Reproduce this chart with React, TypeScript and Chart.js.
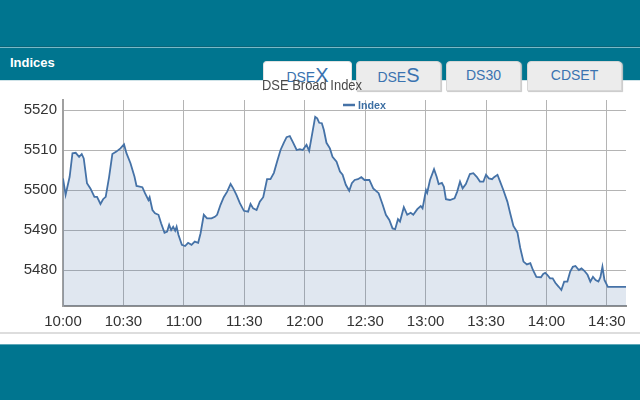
import React, { useEffect, useRef } from "react";
import { Chart, registerables } from "chart.js";

Chart.register(...registerables);

// minutes after 10:00
const times = [
  0, 1.3, 3.3, 4.7, 6.3, 8, 9.3, 10.3, 11.9, 13.6, 15.6, 16.9, 18.6, 19.9, 21.2, 22.9, 24.5, 26.5, 28.5, 30.3,
  31.5, 33.5, 35.5, 36.5, 39.4, 40.7, 42.4, 43, 44.4, 45.7, 47.4, 48.7, 50.4, 51.7, 52.7, 53.7, 54.7, 55.7, 56.4, 57.3,
  59, 60.6, 62.1, 63.8, 65.4, 67.1, 68.3, 69.9, 71.5, 73.7, 75.4, 76.5, 78.2, 79.8, 81.5, 83.2, 84.5, 86.1, 87.8, 89.8,
  91.9, 93.1, 94.4, 96.1, 97.7, 99.4, 101.3, 103, 104.7, 106.3, 108, 109.6, 111, 112.6, 114, 116, 117.6, 119, 120.9, 122.2,
  123.9, 125.2, 126.2, 127.2, 128.5, 129.5, 130.8, 132.5, 133.8, 135.8, 137.5, 138.8, 140.4, 142.1, 143.4, 144.8, 146.4, 148.1, 149.7, 152.1,
  154, 156.7, 158.7, 160.3, 162, 163.6, 164.9, 166.3, 167.3, 169.2, 170.9, 172.6, 173.9, 175.9, 177.6, 178.5, 180.2, 180.8, 182.2, 184.2,
  185.5, 186.5, 188.1, 189.1, 190.1, 192.1, 194.4, 195.7, 197.1, 198.4, 200, 202, 203.7, 205.4, 207, 208.7, 210, 211.4, 213, 214,
  215.7, 217, 218.6, 220.6, 222, 223.6, 225.6, 227, 228.6, 230.3, 232, 233.3, 235, 237.3, 238.4, 239.4, 240.4, 241.8, 243.1, 244.4,
  246.1, 247.4, 248.8, 250.4, 251.8, 253.1, 254.4, 256.1, 257.4, 258.8, 260.4, 261.8, 263.1, 264.4, 265.8, 266.8, 267.8, 268.8, 270.5, 273,
  276, 279.5,
];

const values = [
  5502.9, 5498.8, 5503.3, 5509.2, 5509.3, 5508.3, 5509, 5507.9, 5501.7, 5500.4, 5498.3, 5498.3, 5496.5, 5497.7, 5498.3, 5503.3, 5509, 5509.6, 5510.4, 5511.4,
  5509.2, 5506.7, 5503.3, 5501, 5500.7, 5499.2, 5497.5, 5498.2, 5495, 5494.2, 5493.8, 5491.7, 5489.3, 5489.6, 5491.3, 5490, 5490.8, 5489.8, 5490.8, 5488.8,
  5486.3, 5486, 5486.8, 5486.3, 5487.1, 5486.8, 5489.2, 5493.8, 5492.9, 5492.9, 5493.3, 5493.8, 5496.3, 5498.2, 5499.6, 5501.5, 5500.4, 5498.8, 5496.7, 5494.8,
  5494.6, 5496.5, 5495.4, 5495, 5497.1, 5498.2, 5502.7, 5502.7, 5504.3, 5507.1, 5510, 5511.8, 5513.2, 5513.5, 5512.1, 5510, 5510.2, 5510, 5511.3, 5509.8,
  5514.6, 5518.3, 5517.9, 5516.8, 5516.7, 5515, 5511.8, 5510.4, 5508.3, 5507.1, 5504.6, 5503.8, 5501.3, 5499.8, 5501.7, 5502.5, 5502.7, 5503.2, 5502.5, 5502.5,
  5500.4, 5499.2, 5496.3, 5493.8, 5492.5, 5490.4, 5490.2, 5492.7, 5492.1, 5495.7, 5493.8, 5494.3, 5493.8, 5495.2, 5496, 5495.4, 5500, 5499.3, 5502.5, 5505.2,
  5503.3, 5501.5, 5501.8, 5500.8, 5497.7, 5497.5, 5497.9, 5499.6, 5502.1, 5500.4, 5501.5, 5504, 5504.2, 5503.3, 5502.1, 5502.1, 5503.8, 5502.9, 5502.7, 5503.2,
  5503.8, 5502.1, 5500, 5497.1, 5494.2, 5491, 5489.4, 5485.5, 5482.1, 5481.4, 5481.7, 5480, 5478.3, 5478.2, 5479, 5479.3, 5478.8, 5477.9, 5477.9, 5476.8,
  5475.8, 5475, 5477.1, 5477.1, 5479.6, 5480.8, 5481, 5480, 5480.4, 5479.8, 5478.8, 5477.1, 5478.3, 5477.5, 5477.1, 5478.2, 5480.8, 5477.5, 5475.8, 5475.8,
  5475.8, 5475.8,
];

const yTicks = [5480, 5490, 5500, 5510, 5520];
const xTickMinutes = [0, 30, 60, 90, 120, 150, 180, 210, 240, 270];
const xTickLabels = ["10:00", "10:30", "11:00", "11:30", "12:00", "12:30", "13:00", "13:30", "14:00", "14:30"];
const seriesName = "Index";
const chartTitle = "DSE Broad Index";
const panelTitle = "Indices";
const tabs = [
  { main: "DSE", big: "X", active: true, left: 263, width: 89 },
  { main: "DSE", big: "S", active: false, left: 356, width: 85 },
  { main: "DS30", big: "", active: false, left: 446, width: 75 },
  { main: "CDSET", big: "", active: false, left: 527, width: 95 },
];

const TEAL = "#00758f";
const LINE = "#4572a7";

const textPlugin = {
  id: "headerTexts",
  afterDraw(chart: any) {
    const { ctx, chartArea } = chart;
    ctx.save();
    // title
    ctx.fillStyle = "#4a4a4a";
    ctx.font = '15px "Liberation Sans Narrow", "Liberation Sans", Arial, sans-serif';
    ctx.textAlign = "center";
    ctx.textBaseline = "middle";
    ctx.fillText(chartTitle, 312, chartArea.top - 14, 100);
    // legend
    const ly = chartArea.top + 5;
    const lx = chartArea.left + 280;
    ctx.strokeStyle = LINE;
    ctx.lineWidth = 2.5;
    ctx.beginPath();
    ctx.moveTo(lx, ly);
    ctx.lineTo(lx + 12, ly);
    ctx.stroke();
    ctx.fillStyle = "#3d6fa3";
    ctx.font = 'bold 11px "Liberation Sans", Arial, sans-serif';
    ctx.textAlign = "left";
    ctx.fillText(seriesName, lx + 15, ly + 0.5, 28);
    ctx.restore();
  },
};

function ChartCanvas() {
  const ref = useRef<HTMLCanvasElement | null>(null);
  useEffect(() => {
    if (!ref.current) return;
    const chart = new Chart(ref.current, {
      type: "line",
      data: {
        datasets: [
          {
            label: seriesName,
            data: times.map((t, i) => ({ x: t, y: values[i] })),
            borderColor: LINE,
            borderWidth: 1.8,
            backgroundColor: "rgba(69,114,167,0.17)",
            fill: "start",
            pointRadius: 0,
            tension: 0,
          },
        ],
      },
      options: {
        animation: false,
        responsive: true,
        maintainAspectRatio: false,
        layout: { padding: { top: 24, right: 14, left: 0, bottom: 0 } },
        plugins: { legend: { display: false }, title: { display: false }, tooltip: { enabled: false } },
        scales: {
          x: {
            type: "linear",
            min: 0,
            max: 279.5,
            afterBuildTicks: (axis: any) => {
              axis.ticks = xTickMinutes.map((v) => ({ value: v }));
            },
            afterFit: (axis: any) => {
              axis.height = 30;
            },
            ticks: {
              autoSkip: false,
              maxRotation: 0,
              padding: 7,
              color: "#333333",
              font: { family: '"Liberation Sans", Arial, sans-serif', size: 15 },
              callback: (v: any) => {
                const i = xTickMinutes.indexOf(Number(v));
                return i >= 0 ? xTickLabels[i] : "";
              },
            },
            grid: { color: "#b4b4b4", lineWidth: 1, drawTicks: false },
            border: { color: "#8f8f8f", width: 2 },
          },
          y: {
            min: 5471,
            max: 5522.5,
            afterBuildTicks: (axis: any) => {
              axis.ticks = yTicks.map((v) => ({ value: v }));
            },
            afterFit: (axis: any) => {
              axis.width = 63;
            },
            ticks: {
              padding: 6,
              color: "#333333",
              font: { family: '"Liberation Sans", Arial, sans-serif', size: 15 },
              callback: (v: any) => String(v),
            },
            grid: { color: "#b4b4b4", lineWidth: 1, drawTicks: false },
            border: { color: "#a0a0a0", width: 2 },
          },
        },
      },
      plugins: [textPlugin],
    } as any);
    return () => chart.destroy();
  }, []);
  return <canvas ref={ref} />;
}

export default function App() {
  useEffect(() => {
    document.body.style.margin = "0";
  }, []);
  const font = '"Liberation Sans", Arial, sans-serif';
  return (
    <div style={{ position: "absolute", left: 0, top: 0, width: 640, height: 400, overflow: "hidden", background: "#ffffff", fontFamily: font }}>
      <div style={{ position: "absolute", left: 0, top: 0, width: 640, height: 80, background: TEAL }} />
      <div style={{ position: "absolute", left: 0, top: 46, width: 640, height: 1, background: "#0a6579" }} />
      <div style={{ position: "absolute", left: 0, top: 47, width: 640, height: 1, background: "#79b9c8" }} />
      <div style={{ position: "absolute", left: 0, top: 80, width: 640, height: 1, background: "#cfe3e8" }} />
      <div style={{ position: "absolute", left: 10, top: 54, color: "#ffffff", fontWeight: "bold", fontSize: 13, lineHeight: "18px" }}>{panelTitle}</div>
      {tabs.map((t, i) => (
        <div
          key={i}
          style={{
            position: "absolute",
            left: t.left,
            top: 61,
            width: t.width,
            height: 30,
            boxSizing: "border-box",
            background: t.active ? "#ffffff" : "#ececec",
            borderRadius: "4px 4px 0 0",
            border: t.active ? "1px solid #e2e2e2" : "1px solid #d6d6d6",
            borderBottom: t.active ? "none" : "1px solid #d6d6d6",
            boxShadow: t.active ? "none" : "1px 1px 1px #c8c8c8",
            textAlign: "center",
            color: "#3a73b0",
            fontSize: 14,
            lineHeight: "27px",
            whiteSpace: "nowrap",
          }}
        >
          <span>{t.main}</span>
          {t.big ? <span style={{ fontSize: 20 }}>{t.big}</span> : null}
        </div>
      ))}
      <div style={{ position: "absolute", left: 0, top: 76, width: 640, height: 260 }}>
        <ChartCanvas />
      </div>
      <div style={{ position: "absolute", left: 0, top: 332, width: 640, height: 2, background: "#dddddd" }} />
      <div style={{ position: "absolute", left: 0, top: 344, width: 640, height: 56, background: TEAL }} />
      <div style={{ position: "absolute", left: 0, top: 344, width: 640, height: 1, background: "#5ea8b9" }} />
    </div>
  );
}
